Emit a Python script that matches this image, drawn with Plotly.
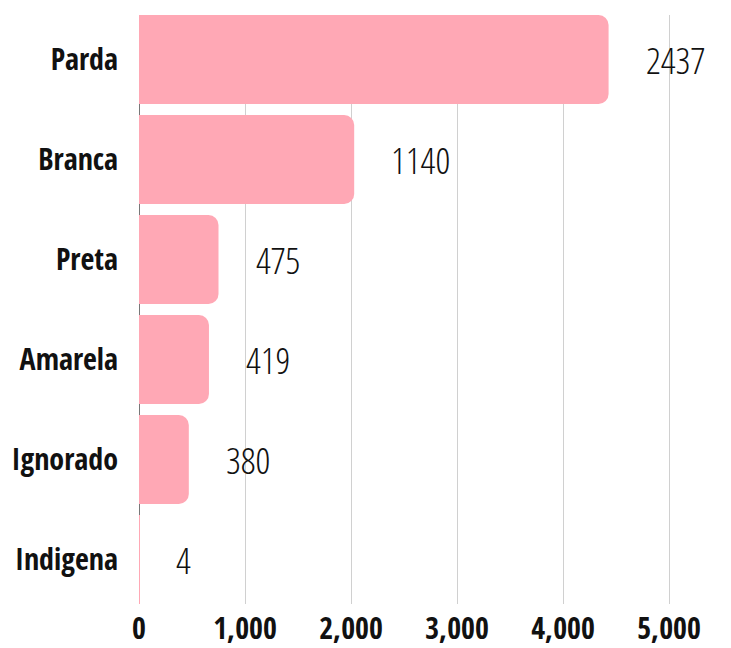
import plotly.graph_objects as go

categories = ["Parda", "Branca", "Preta", "Amarela", "Ignorado", "Indigena"]
bar_values = [4430, 2030, 750, 660, 470, 4]
label_values = [2437, 1140, 475, 419, 380, 4]
tick_vals = [0, 1000, 2000, 3000, 4000, 5000]
tick_text = ["0", "1,000", "2,000", "3,000", "4,000", "5,000"]

BAR_COLOR = "#FFA8B5"
FONT = "Open Sans Condensed"
LABEL_FONT = "Open Sans Condensed Light"

fig = go.Figure()
fig.add_trace(go.Bar(
    x=bar_values,
    y=categories,
    orientation="h",
    marker=dict(color=BAR_COLOR, line=dict(width=0)),
    width=0.89,
    hoverinfo="skip",
))

for cat, xv, lab in zip(categories, bar_values, label_values):
    fig.add_annotation(
        x=xv, y=cat, text=str(lab), showarrow=False,
        xanchor="left", yanchor="middle", xshift=35,
        font=dict(family=LABEL_FONT, size=37, color="#111111"),
    )

fig.update_layout(
    width=723, height=640,
    margin=dict(l=131, r=9, t=7, b=44),
    paper_bgcolor="white", plot_bgcolor="white",
    barcornerradius=10,
    showlegend=False,
    xaxis=dict(
        range=[0, 5500],
        tickvals=tick_vals, ticktext=tick_text,
        showgrid=True, gridcolor="#d0d0d0", gridwidth=1,
        zeroline=True, zerolinecolor="#777777", zerolinewidth=1,
        showline=False,
        tickfont=dict(family=FONT, size=30, color="#111111", weight="bold"),
        ticklabelstandoff=4,
        automargin=False,
        fixedrange=True,
    ),
    yaxis=dict(
        categoryorder="array", categoryarray=categories,
        autorange=False, range=[5.445, -0.445],
        showgrid=False, zeroline=False, showline=False,
        tickfont=dict(family=FONT, size=30, color="#111111", weight="bold"),
        ticklabelstandoff=20,
        automargin=False,
        fixedrange=True,
    ),
)

fig.write_html("out.html")
